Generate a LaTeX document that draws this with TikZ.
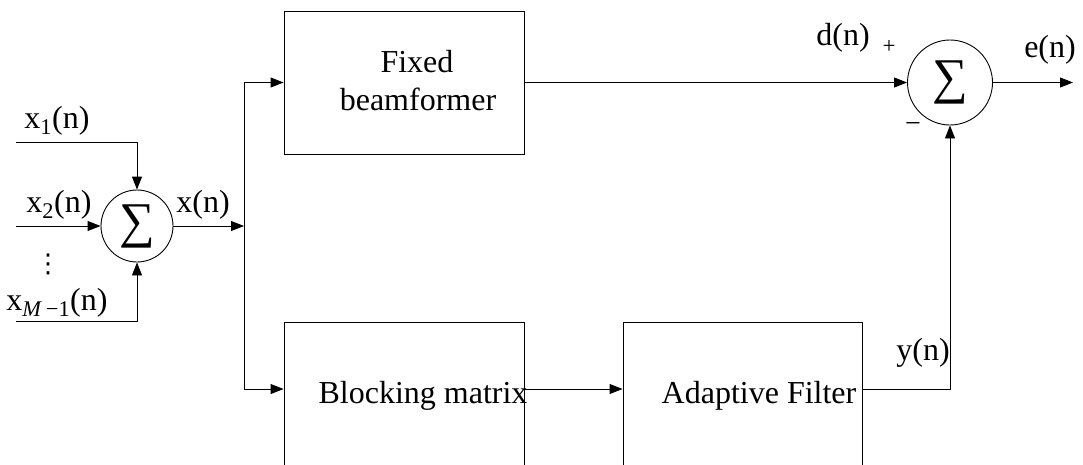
\documentclass[tikz,border=0pt]{standalone}
\usepackage{fontspec}
\setmainfont{Liberation Serif}
\newfontfamily\symfont{DejaVu Sans}
\usetikzlibrary{arrows.meta}

\begin{document}
\begin{tikzpicture}
  [x=1pt, y=-1pt,
  line/.style={draw, -{Triangle[length=13pt, width=10pt]}, line width=0.9pt},
  block/.style={rectangle, draw, line width=0.9pt, minimum width=240pt, inner sep=0pt},
  sum/.style={circle, draw, line width=0.9pt, inner sep=0pt, font=\fontsize{50}{54}\selectfont},
  txt/.style={font=\fontsize{32}{38}\selectfont, inner sep=0pt, anchor=base}]
  \useasboundingbox (0,0) rectangle (1083,464);
  \clip (0,0) rectangle (1083,464);
  % nodes
  \node [sum, minimum size=72pt] (sumin) at (137,226) {∑};
  \node [sum, minimum size=85pt] (sumout) at (950,82.5) {∑};
  \node [block, minimum height=143pt] (fixed) at (404,82.5) {};
  \node [block, minimum height=200pt, anchor=north] (blocking) at (404,322) {};
  \node [block, minimum width=239pt, minimum height=200pt, anchor=north] (adaptive) at (742.5,322) {};
  \coordinate (in1) at (16,142);
  \coordinate (in2) at (16,226);
  \coordinate (in3) at (16,321);
  \coordinate (split) at (244,226);
  \coordinate (low) at (244,389);
  \coordinate (out) at (1073,82.5);
  % labels
  \node [txt] (x1lab) at (57,128) {x\textsubscript{1}(n)};
  \node [txt] (x2lab) at (59,212) {x\textsubscript{2}(n)};
  \node [font=\symfont\fontsize{26}{30}\selectfont, inner sep=0pt] (dots) at (48,264) {⋮};
  \node [txt] (xmlab) at (57,310) {x\textsubscript{\textit{M}\,−1}(n)};
  \node [txt] (xlab) at (203,212) {x(n)};
  \node [txt] (dlab) at (843,45) {d(n)};
  \node [txt, anchor=center, font=\fontsize{23}{26}\selectfont] (plus) at (889,47) {+};
  \node [txt, anchor=center, font=\fontsize{28}{32}\selectfont] (minus) at (913,127) {−};
  \node [txt] (elab) at (1050,57) {e(n)};
  \node [txt] (ylab) at (923,360) {y(n)};
  \node [txt] (fixedlaba) at (417,72) {Fixed};
  \node [txt] (fixedlabb) at (418,110) {beamformer};
  \node [txt] (blocklab) at (423,403) {Blocking matrix};
  \node [txt] (adaptlab) at (759,403) {Adaptive Filter};
  % edges
  \path [line] (in1) -| (sumin.north);
  \path [line] (in2) -- (sumin.west);
  \path [line] (in3) -| (sumin.south);
  \path [line] (sumin.east) -- (split);
  \path [line] (split) |- (fixed.west);
  \path [line] (split) -- (low) -- (low -| blocking.west);
  \path [line] (low -| blocking.east) -- (low -| adaptive.west);
  \path [line] (low -| adaptive.east) -| (sumout.south);
  \path [line] (fixed.east) -- (sumout.west);
  \path [line] (sumout.east) -- (out);
\end{tikzpicture}
\end{document}
